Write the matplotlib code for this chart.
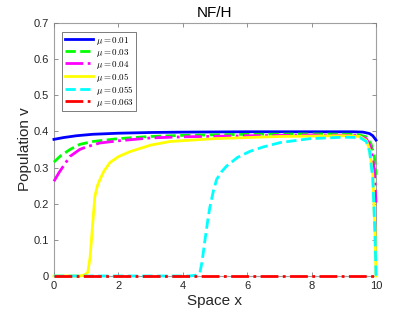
import numpy as np
import matplotlib
matplotlib.use("Agg")
import matplotlib.pyplot as plt

plt.rcParams['font.family'] = ['Liberation Sans', 'DejaVu Sans']
plt.rcParams['mathtext.fontset'] = 'cm'

# values
x_blue = [0, 0.3, 0.7, 1.2, 2, 3, 4, 6, 8, 9.3, 9.6, 9.8, 9.9, 10]
v_blue = [0.378, 0.383, 0.388, 0.392, 0.395, 0.397, 0.398, 0.399, 0.399, 0.399, 0.398, 0.394, 0.388, 0.376]

x_green = [0, 0.2, 0.5, 0.8, 1.2, 2, 3, 4, 6, 8, 9.4, 9.7, 9.85, 9.95, 10]
v_green = [0.315, 0.332, 0.350, 0.364, 0.372, 0.380, 0.386, 0.389, 0.392, 0.393, 0.392, 0.385, 0.365, 0.33, 0.28]

x_mag = [0, 0.15, 0.3, 0.5, 0.8, 1.0, 1.43, 2, 3, 4, 6, 8, 9.4, 9.7, 9.85, 9.95, 10]
v_mag = [0.262, 0.285, 0.305, 0.331, 0.350, 0.357, 0.368, 0.374, 0.382, 0.385, 0.388, 0.390, 0.389, 0.380, 0.355, 0.29, 0.203]

x_yel = [0, 0.8, 0.95, 1.05, 1.12, 1.2, 1.27, 1.35, 1.43, 1.55, 1.74, 2, 2.36, 3, 3.6, 5, 7, 9, 9.5, 9.7, 9.8, 9.9, 9.97, 10]
v_yel = [0, 0, 0.003, 0.01, 0.05, 0.14, 0.22, 0.25, 0.267, 0.29, 0.314, 0.330, 0.344, 0.362, 0.372, 0.380, 0.386, 0.388, 0.386, 0.375, 0.35, 0.28, 0.12, 0]

x_cyan = [0, 4.2, 4.4, 4.53, 4.6, 4.69, 4.77, 4.84, 4.95, 5.05, 5.2, 5.36, 5.7, 6.09, 6.5, 7.02, 7.95, 9, 9.5, 9.7, 9.8, 9.9, 9.97, 10]
v_cyan = [0, 0, 0.002, 0.008, 0.04, 0.1, 0.15, 0.19, 0.235, 0.267, 0.288, 0.304, 0.328, 0.345, 0.357, 0.369, 0.380, 0.384, 0.383, 0.372, 0.345, 0.27, 0.11, 0]

x_red = [0, 10]
v_red = [0, 0]

series = [
    (x_blue, v_blue, '#0000ff', '-', r'$\mu = 0.01$'),
    (x_green, v_green, '#00ff00', '--', r'$\mu = 0.03$'),
    (x_mag, v_mag, '#ff00ff', '-.', r'$\mu = 0.04$'),
    (x_yel, v_yel, '#ffff00', '-', r'$\mu = 0.05$'),
    (x_cyan, v_cyan, '#00ffff', '--', r'$\mu = 0.055$'),
    (x_red, v_red, '#ff0000', '-.', r'$\mu = 0.063$'),
]

fig = plt.figure(figsize=(4.15, 3.12), dpi=100)
ax = fig.add_axes([0.130, 0.1154, 0.776, 0.811])

for xs, vs, c, ls, lab in series:
    ax.plot(xs, vs, color=c, linestyle=ls, linewidth=2, label=lab,
            clip_on=False, zorder=3)

ax.set_xlim(0, 10)
ax.set_ylim(0, 0.7)
ax.set_xticks([0, 2, 4, 6, 8, 10])
ax.set_yticks([0, 0.1, 0.2, 0.3, 0.4, 0.5, 0.6, 0.7])
ax.set_yticklabels(['0', '0.1', '0.2', '0.3', '0.4', '0.5', '0.6', '0.7'])

grey = '#262626'
for s in ax.spines.values():
    s.set_color('#a0a0a0')
    s.set_linewidth(0.8)
    s.set_zorder(1)
ax.tick_params(direction='in', top=True, right=True, length=3, width=0.6,
               colors='#808080', labelcolor=grey, labelsize=8)

ax.set_xlabel('Space x', fontsize=11, color=grey, labelpad=2)
ax.set_ylabel('Population v', fontsize=11, color=grey, labelpad=1)
ax.set_title('NF/H', fontsize=11, color='k', pad=4)

leg = ax.legend(loc='upper left', bbox_to_anchor=(0.025, 0.965),
                borderaxespad=0, fontsize=6.5, frameon=True, fancybox=False,
                edgecolor='#404040', handlelength=3.1, handletextpad=0.35,
                labelspacing=0.0, borderpad=0.3)
leg.get_frame().set_linewidth(0.6)
leg.set_zorder(5)

fig.savefig('out.png', dpi=100)
